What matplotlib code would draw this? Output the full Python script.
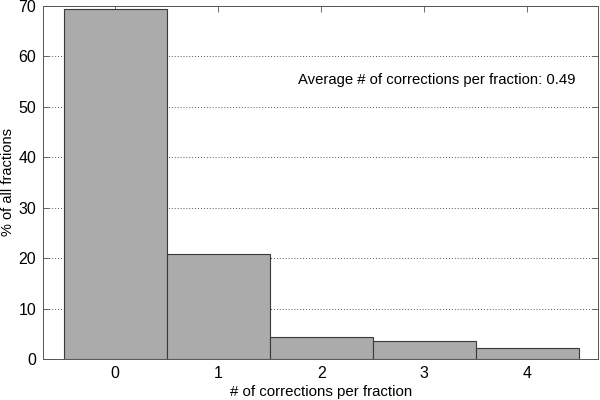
import numpy as np
import matplotlib
matplotlib.use('Agg')
import matplotlib.pyplot as plt

# datos
correcciones = [0, 1, 2, 3, 4]
porcentajes = [69.4, 20.8, 4.3, 3.5, 2.2]
promedio = 0.49

plt.rcParams['font.family'] = ['Liberation Sans', 'DejaVu Sans']

fig = plt.figure(figsize=(6, 4), dpi=100)
ax = fig.add_axes([0.072, 0.1025, 0.925, 0.8825])

ax.bar(correcciones, porcentajes, width=1.0, color='#ababab',
       edgecolor='#3a3a3a', linewidth=0.8, zorder=2)

ax.set_xlim(-0.7, 4.69)
ax.set_ylim(0, 70)
ax.set_xticks(correcciones)
ax.set_yticks(np.arange(0, 71, 10))
ax.yaxis.grid(True, linestyle=(0, (1, 2)), color='#555555', linewidth=0.7, zorder=0)
ax.tick_params(direction='in', top=True, right=True, labelsize=11.5,
               length=4, width=0.6, color='#555555', pad=5)
for s in ax.spines.values():
    s.set_color('#555555')
    s.set_linewidth(0.7)

ax.set_xlabel('# of corrections per fraction', fontsize=10.8, labelpad=3)
ax.set_ylabel('% of all fractions', fontsize=10.5)
ax.yaxis.set_label_coords(-0.051, 0.5)

ax.text(1.77, 55.4, 'Average # of corrections per fraction: %.2f' % promedio,
        fontsize=10.7, va='center', ha='left')

fig.savefig('out.png', dpi=100)
